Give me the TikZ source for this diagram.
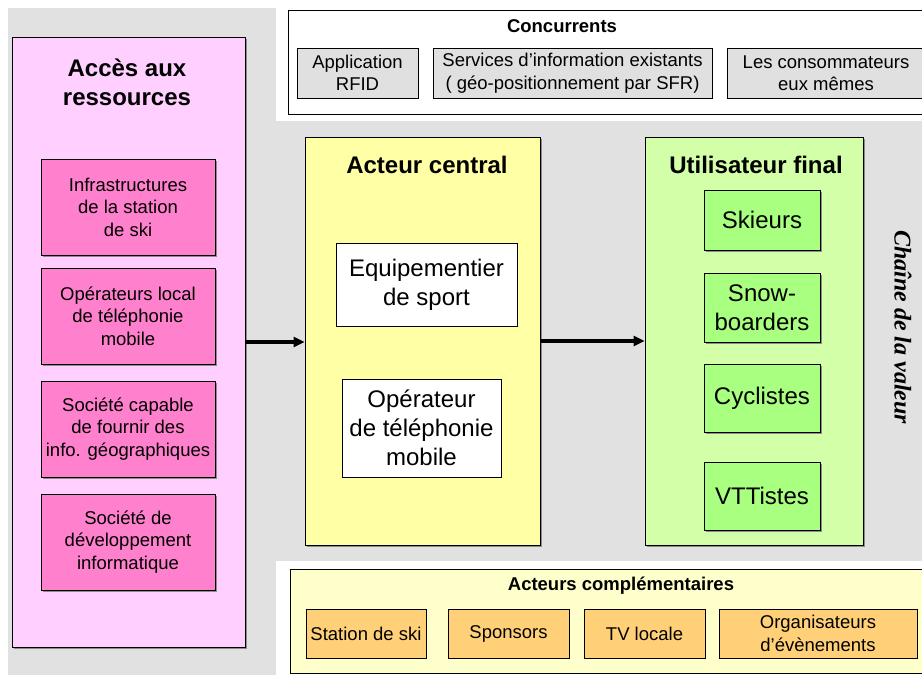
\documentclass[tikz,border=0pt]{standalone}
\usepackage{fontspec}
\setmainfont{Liberation Sans}
\newfontfamily\chainfont{Liberation Serif}
\usetikzlibrary{arrows.meta,shadows}
\definecolor{bggrey}{HTML}{E1E1E1}
\definecolor{pinkout}{HTML}{FFD0FF}
\definecolor{pinkin}{HTML}{FF80CC}
\definecolor{yellowc}{HTML}{FFFFA6}
\definecolor{greenout}{HTML}{D2FFA8}
\definecolor{greenin}{HTML}{A8FF80}
\definecolor{greybox}{HTML}{E0E0E0}
\definecolor{creamp}{HTML}{FFFFCC}
\definecolor{orangeb}{HTML}{FFD078}
\newcommand\smallfs{\fontsize{18.5pt}{22.5pt}\selectfont}
\newcommand\bigfs{\fontsize{24pt}{29pt}\selectfont}
\begin{document}
\begin{tikzpicture}[x=1pt,y=-1pt,
  box/.style={draw=black, line width=0.8pt, rectangle, inner sep=0pt, align=center},
  shad/.style={drop shadow={shadow xshift=1.8pt,shadow yshift=-1.8pt,fill=black!45,opacity=1}},
  smalltxt/.style={font=\smallfs},
  bigtxt/.style={font=\bigfs},
  title/.style={inner sep=0pt, align=center, font=\bigfs\bfseries},
  smalltitle/.style={inner sep=0pt, align=center, font=\smallfs\bfseries},
  flow/.style={line width=3.2pt, -{Triangle[length=11pt,width=10pt]}}
]
\useasboundingbox (0,0) rectangle (922,675);
\clip (0,0) rectangle (922,675);
\fill[bggrey] (8,8) rectangle (922,675);
\fill[white] (276,0) rectangle (922,121);
\fill[white] (276,561) rectangle (922,675);

% Concurrents panel
\node[box, fill=white, minimum width=652pt, minimum height=104pt] (conc) at (614,62) {};
\node[smalltitle] (conct) at (562,26) {Concurrents};
\node[box, fill=greybox, smalltxt, minimum width=121pt, minimum height=50pt] (rfid) at (357.5,73) {Application\\RFID};
\node[box, fill=greybox, smalltxt, minimum width=279pt, minimum height=50pt] (serv) at (572.5,73) {Services d’information existants\\( géo-positionnement par SFR)};
\node[box, fill=greybox, smalltxt, minimum width=198pt, minimum height=50pt] (cons) at (826,73) {Les consommateurs\\eux mêmes};

% Acteurs complementaires panel
\node[box, fill=creamp, minimum width=660pt, minimum height=104pt] (compl) at (620,621) {};
\node[smalltitle] (complt) at (621,586) {Acteurs complémentaires};
\node[box, fill=orangeb, smalltxt, minimum width=120pt, minimum height=49pt] (station) at (366,633.5) {Station de ski};
\node[box, fill=orangeb, smalltxt, minimum width=121pt, minimum height=49pt] (spons) at (508.5,633.5) {Sponsors};
\node[box, fill=orangeb, smalltxt, minimum width=121pt, minimum height=49pt] (tv) at (644.5,633.5) {TV locale};
\node[box, fill=orangeb, smalltxt, minimum width=198pt, minimum height=49pt] (orga) at (818,633.5) {Organisateurs\\d’évènements};

% Acces aux ressources
\node[box, shad, fill=pinkout, minimum width=233pt, minimum height=610pt] (acces) at (128.5,342) {};
\node[title] (accest) at (127,82) {Accès aux\\ressources};
\node[box, shad, fill=pinkin, smalltxt, minimum width=174pt, minimum height=96pt] (infra) at (128,207) {Infrastructures\\de la station\\de ski};
\node[box, shad, fill=pinkin, smalltxt, minimum width=174pt, minimum height=96pt] (optel) at (128,316) {Opérateurs local\\de téléphonie\\mobile};
\node[box, shad, fill=pinkin, smalltxt, minimum width=174pt, minimum height=96pt] (geo) at (128,429) {Société capable\\de fournir des\\info. géographiques};
\node[box, shad, fill=pinkin, smalltxt, minimum width=174pt, minimum height=96pt] (dev) at (128,542) {Société de\\développement\\informatique};

% Acteur central
\node[box, shad, fill=yellowc, minimum width=235pt, minimum height=408pt] (central) at (422.5,341) {};
\node[title] (centralt) at (427,165) {Acteur central};
\node[box, fill=white, bigtxt, minimum width=181pt, minimum height=83pt] (equip) at (426.5,284.5) {Equipementier\\de sport};
\node[box, fill=white, bigtxt, minimum width=159pt, minimum height=98pt] (oper) at (421.5,428) {Opérateur\\de téléphonie\\mobile};

% Utilisateur final
\node[box, shad, fill=greenout, minimum width=218pt, minimum height=408pt] (final) at (754,341) {};
\node[title] (finalt) at (756,165) {Utilisateur final};
\node[box, shad, fill=greenin, bigtxt, minimum width=116pt, minimum height=60pt] (ski) at (762,220) {Skieurs};
\node[box, shad, fill=greenin, bigtxt, minimum width=116pt, minimum height=69pt] (snow) at (762,307.5) {Snow-\\boarders};
\node[box, shad, fill=greenin, bigtxt, minimum width=116pt, minimum height=68pt] (cycl) at (762,398) {Cyclistes};
\node[box, shad, fill=greenin, bigtxt, minimum width=116pt, minimum height=68pt] (vtt) at (762,496) {VTTistes};

% Arrows
\draw[flow] (acces.east) -- (acces.east -| central.west);
\draw[flow] (central.east) -- (central.east -| final.west);

% Chaine de la valeur
\node[rotate=-90, inner sep=0pt, font=\chainfont\bfseries\itshape\fontsize{24pt}{29pt}\selectfont] (chain) at (903,327) {Chaîne de la valeur};
\end{tikzpicture}
\end{document}
